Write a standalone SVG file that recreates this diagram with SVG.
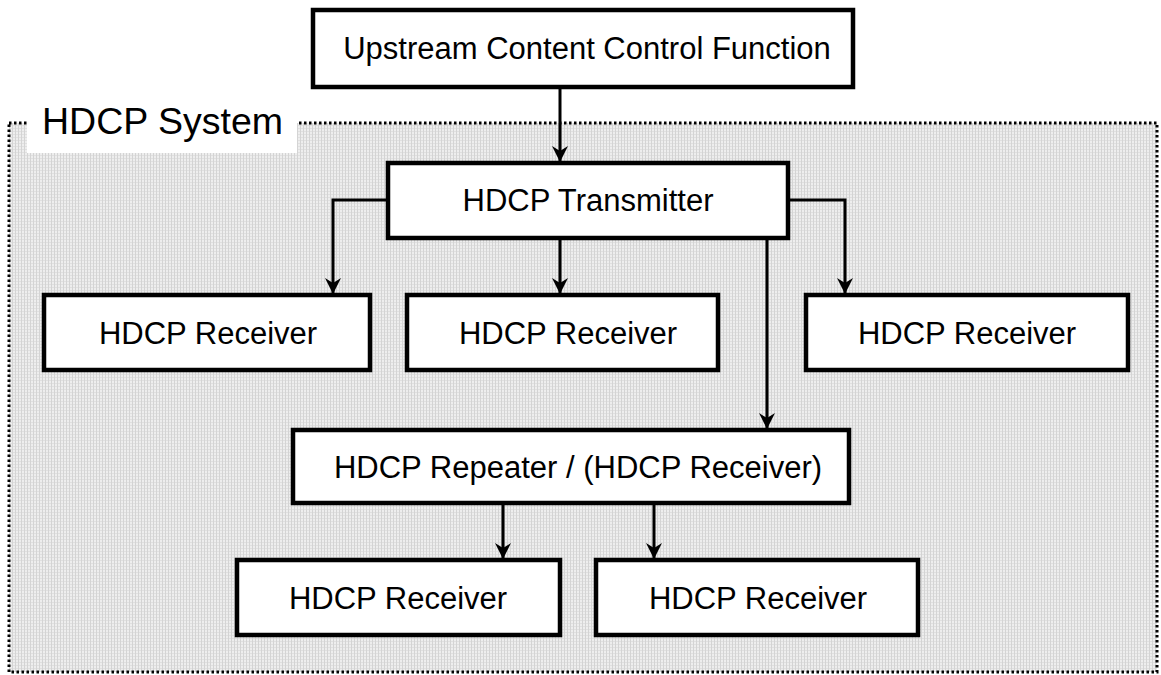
<svg xmlns="http://www.w3.org/2000/svg" width="1161" height="675" viewBox="0 0 1161 675">
<defs>
<pattern id="dots" width="3" height="3" patternUnits="userSpaceOnUse">
<rect width="3" height="3" fill="#eeeeee"/>
<rect x="0" y="0" width="1" height="3" fill="#d4d4d4"/>
<rect x="1" y="2" width="2" height="1" fill="#e0e0e0"/>
</pattern>
<marker id="arr" viewBox="0 0 16 16" refX="15" refY="8" markerWidth="16" markerHeight="16" markerUnits="userSpaceOnUse" orient="auto">
<path d="M16,8 L0,0 L5,8 L0,16 Z" fill="#000"/>
</marker>
<style>
.box{fill:#fff;stroke:#000;stroke-width:4.5}
.lbl{font-family:"Liberation Sans",Arial,sans-serif;font-size:31px;fill:#000;text-anchor:middle}
.con{fill:none;stroke:#000;stroke-width:3;marker-end:url(#arr)}
</style>
</defs>
<rect width="1161" height="675" fill="#fff"/>
<g id="hdcp-system">
<rect x="9" y="123" width="1148" height="549" fill="url(#dots)" stroke="#000" stroke-width="3" stroke-dasharray="2.5 2.5"/>
<rect x="27" y="96" width="270" height="57" fill="#fff"/>
<text x="42" y="134" font-family="Liberation Sans, Arial, sans-serif" font-size="37.5" fill="#000">HDCP System</text>
</g>
<g id="connectors">
<path class="con" d="M560,88 V161"/>
<path class="con" d="M388,200 H333 V293"/>
<path class="con" d="M560,238 V293"/>
<path class="con" d="M788,200 H845 V293"/>
<path class="con" d="M767,238 V428"/>
<path class="con" d="M503,503 V558"/>
<path class="con" d="M654,503 V558"/>
</g>
<g id="upstream">
<rect class="box" x="313" y="10" width="540" height="77"/>
<text class="lbl" x="587" y="59">Upstream Content Control Function</text>
</g>
<g id="transmitter">
<rect class="box" x="388" y="163" width="400" height="75"/>
<text class="lbl" x="588" y="211">HDCP Transmitter</text>
</g>
<g id="receiver1">
<rect class="box" x="44" y="295" width="326" height="75"/>
<text class="lbl" x="208" y="344">HDCP Receiver</text>
</g>
<g id="receiver2">
<rect class="box" x="407" y="295" width="311" height="75"/>
<text class="lbl" x="568" y="344">HDCP Receiver</text>
</g>
<g id="receiver3">
<rect class="box" x="806" y="295" width="322" height="75"/>
<text class="lbl" x="967" y="344">HDCP Receiver</text>
</g>
<g id="repeater">
<rect class="box" x="293" y="430" width="556" height="73"/>
<text class="lbl" x="578" y="478">HDCP Repeater / (HDCP Receiver)</text>
</g>
<g id="receiver4">
<rect class="box" x="237" y="560" width="323" height="75"/>
<text class="lbl" x="398" y="609">HDCP Receiver</text>
</g>
<g id="receiver5">
<rect class="box" x="596" y="560" width="322" height="75"/>
<text class="lbl" x="758" y="609">HDCP Receiver</text>
</g>
</svg>
